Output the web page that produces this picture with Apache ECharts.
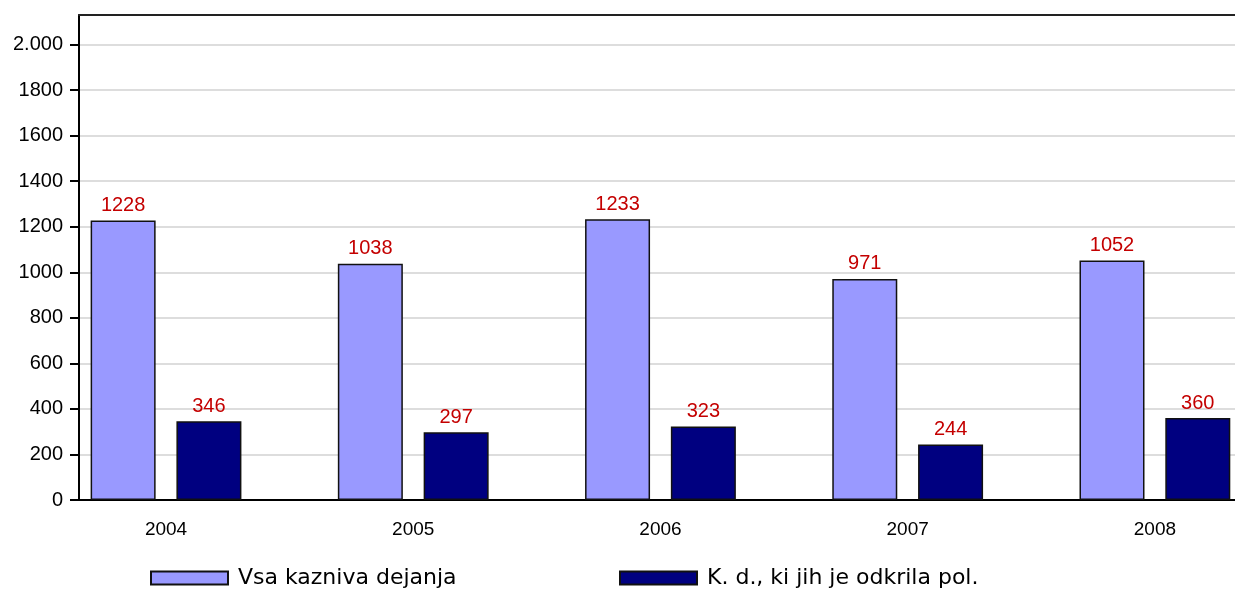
<!DOCTYPE html>
<html>
<head>
<meta charset="utf-8">
<script src="https://cdn.jsdelivr.net/npm/echarts@6/dist/echarts.min.js"></script>
<style>
  html, body { margin: 0; padding: 0; background: #fff; }
  #main { width: 1235px; height: 590px; }
</style>
</head>
<body>
<div id="main"></div>
<script>
// podatki
var years = ['2004', '2005', '2006', '2007', '2008'];
var vsaDejanja = [1228, 1038, 1233, 971, 1052];
var odkrilaPol = [346, 297, 323, 244, 360];
var yTicks = [0, 200, 400, 600, 800, 1000, 1200, 1400, 1600, 1800, 2000];
var seriesNames = ['Vsa kazniva dejanja', 'K. d., ki jih je odkrila pol.'];

var FONT = 'Liberation Sans';
var xMin = -0.352, xMax = 4.324;

function toPoints(arr) {
  return arr.map(function (v, i) { return [i, v]; });
}

var myChart = echarts.init(document.getElementById('main'));

var labelStyle = {
  show: true,
  position: 'top',
  distance: 5,
  color: '#c40000',
  fontFamily: FONT,
  fontSize: 20
};

var legendText = { fontFamily: 'DejaVu Sans', fontSize: 22, color: '#000', padding: [0, 0, 0, 5] };

myChart.setOption({
  animation: false,
  grid: { left: 79, top: 15, right: 0, bottom: 90 },
  legend: [
    {
      data: [seriesNames[0]],
      left: 150, top: 567, padding: 0,
      icon: 'rect',
      itemWidth: 77, itemHeight: 13,
      textStyle: legendText
    },
    {
      data: [seriesNames[1]],
      left: 619, top: 567, padding: 0,
      icon: 'rect',
      itemWidth: 77, itemHeight: 13,
      textStyle: legendText
    }
  ],
  xAxis: [
    {
      type: 'value',
      min: xMin, max: xMax,
      axisLine: { show: true, onZero: false, lineStyle: { color: '#000', width: 2 } },
      axisTick: { show: false },
      splitLine: { show: false },
      axisLabel: {
        customValues: [0, 1, 2, 3, 4],
        formatter: function (v) { return years[Math.round(v)]; },
        margin: 20,
        color: '#000',
        fontFamily: FONT,
        fontSize: 19
      }
    },
    {
      type: 'value',
      position: 'top',
      min: xMin, max: xMax,
      axisLine: { show: true, onZero: false, lineStyle: { color: '#222', width: 2 } },
      axisTick: { show: false },
      axisLabel: { show: false },
      splitLine: { show: false }
    }
  ],
  yAxis: {
    type: 'value',
    min: 0, max: 2130,
    axisLine: { show: true, onZero: false, lineStyle: { color: '#000', width: 2 } },
    axisTick: { show: true, customValues: yTicks, length: 9, lineStyle: { color: '#000', width: 2 } },
    splitLine: { show: true, lineStyle: { color: '#dddddd', width: 2 } },
    axisLabel: {
      customValues: yTicks,
      formatter: function (v) { return v === 2000 ? '2.000' : String(v); },
      margin: 16,
      color: '#000',
      fontFamily: FONT,
      fontSize: 20
    }
  },
  series: [
    {
      name: seriesNames[0],
      type: 'bar',
      xAxisIndex: 0,
      barWidth: 65,
      barGap: '32%',
      data: toPoints(vsaDejanja),
      itemStyle: { color: '#9999ff', borderColor: '#111', borderWidth: 1.5 },
      label: labelStyle
    },
    {
      name: seriesNames[1],
      type: 'bar',
      xAxisIndex: 0,
      barWidth: 65,
      barGap: '32%',
      data: toPoints(odkrilaPol),
      itemStyle: { color: '#000080', borderColor: '#111', borderWidth: 1.5 },
      label: labelStyle
    }
  ]
});
</script>
</body>
</html>
